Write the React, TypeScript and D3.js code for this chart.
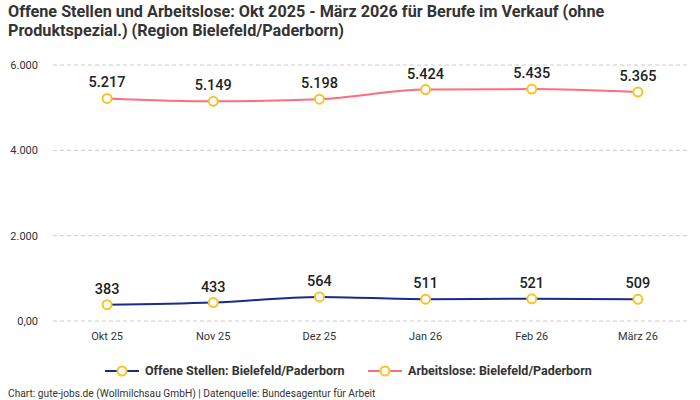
import React from "react";
import * as d3 from "d3";

const months = ["Okt 25", "Nov 25", "Dez 25", "Jan 26", "Feb 26", "März 26"];
const offeneStellen = [383, 433, 564, 511, 521, 509];
const arbeitslose = [5217, 5149, 5198, 5424, 5435, 5365];
const yTicks = [0, 2000, 4000, 6000];
const seriesNames = ["Offene Stellen: Bielefeld/Paderborn", "Arbeitslose: Bielefeld/Paderborn"];
const seriesColors = ["#1a2b8c", "#ff6b81"];

const W = 700;
const H = 400;
const font = "Roboto, 'Noto Sans', sans-serif";

const fmtTick = (v: number) => (v === 0 ? "0,00" : d3.format(",")(v).replace(/,/g, "."));
const fmtVal = (v: number) => d3.format(",")(v).replace(/,/g, ".");

export default function App() {
  const x = d3.scaleBand<string>().domain(months).range([54, 691]);
  const y = d3.scaleLinear().domain([0, 6000]).range([321, 65]);
  const cx = (m: string) => (x(m) ?? 0) + x.bandwidth() / 2;

  const line = d3
    .line<number>()
    .x((_, i) => cx(months[i]))
    .y((d) => y(d))
    .curve(d3.curveMonotoneX);

  const series = [offeneStellen, arbeitslose];

  return (
    <svg width={W} height={H} style={{ position: "absolute", left: 0, top: 0, fontFamily: font }}>
      <rect width={W} height={H} fill="#fff" />
      <text x={8} y={17} fontSize={16.2} fontWeight={700} fill="#333">
        Offene Stellen und Arbeitslose: Okt 2025 - März 2026 für Berufe im Verkauf (ohne
      </text>
      <text x={8} y={36} fontSize={16.2} fontWeight={700} fill="#333">
        Produktspezial.) (Region Bielefeld/Paderborn)
      </text>

      {yTicks.map((t) => (
        <g key={t}>
          <line x1={53} x2={690} y1={y(t)} y2={y(t)} stroke="#ccc" strokeDasharray="4,3" />
          <text x={38} y={y(t) + 4} fontSize={11} textAnchor="end" fill="#333">
            {fmtTick(t)}
          </text>
        </g>
      ))}

      {months.map((m) => (
        <text key={m} x={cx(m)} y={340} fontSize={11} textAnchor="middle" fill="#333">
          {m}
        </text>
      ))}

      {series.map((s, si) => (
        <g key={si}>
          <path d={line(s) ?? ""} fill="none" stroke={seriesColors[si]} strokeWidth={2} />
          {s.map((v, i) => (
            <g key={i}>
              <circle cx={cx(months[i])} cy={y(v)} r={4.5} fill="#fff" stroke="#f7c325" strokeWidth={2} />
              <text
                x={cx(months[i])}
                y={y(v) - 11}
                fontSize={14.5}
                fontWeight={500}
                textAnchor="middle"
                fill="#222"
              >
                {fmtVal(v)}
              </text>
            </g>
          ))}
        </g>
      ))}

      {[105, 368].map((lx, i) => (
        <g key={i}>
          <line x1={lx} x2={lx + 34} y1={371} y2={371} stroke={seriesColors[i]} strokeWidth={2} />
          <circle cx={lx + 17} cy={371} r={4.5} fill="#fff" stroke="#f7c325" strokeWidth={2} />
          <text x={lx + 40} y={375} fontSize={12.5} fontWeight={700} fill="#333">
            {seriesNames[i]}
          </text>
        </g>
      ))}

      <text x={8} y={397} fontSize={10.2} fill="#333">
        Chart: gute-jobs.de (Wollmilchsau GmbH) | Datenquelle: Bundesagentur für Arbeit
      </text>
    </svg>
  );
}
